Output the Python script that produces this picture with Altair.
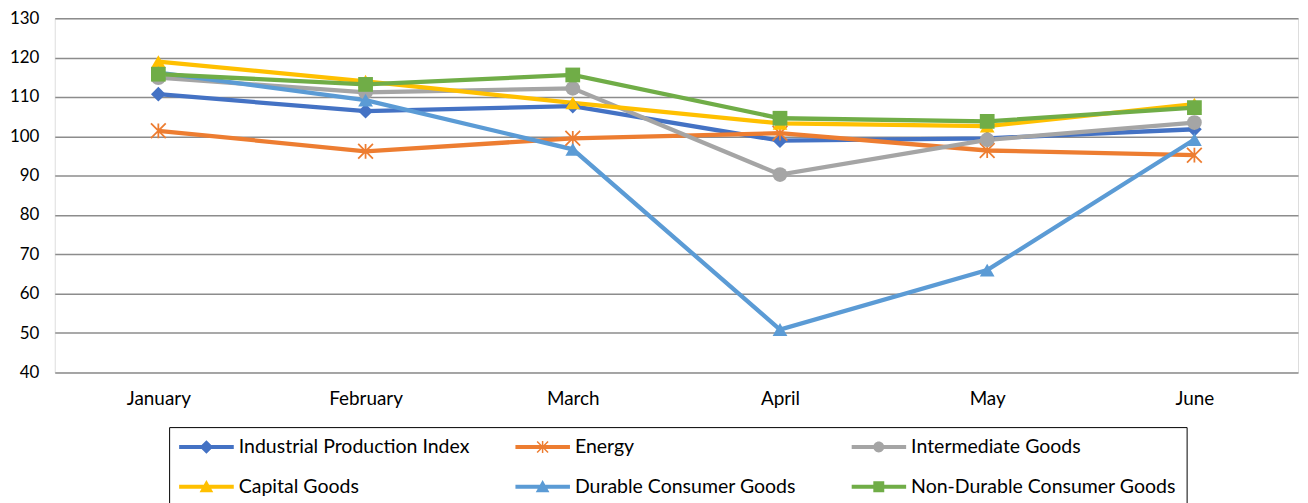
import altair as alt
import pandas as pd

months = ["January", "February", "March", "April", "May", "June"]
series_names = [
    "Industrial Production Index",
    "Energy",
    "Intermediate Goods",
    "Capital Goods",
    "Durable Consumer Goods",
    "Non-Durable Consumer Goods",
]
industrial = [110.7, 106.4, 107.7, 98.9, 99.5, 101.8]
energy = [101.4, 96.2, 99.5, 100.8, 96.4, 95.2]
intermediate = [114.9, 111.2, 112.2, 90.3, 99.1, 103.5]
capital = [119.0, 114.0, 108.5, 103.3, 102.6, 108.2]
durable = [116.2, 109.2, 96.7, 50.9, 66.0, 99.2]
nondurable = [115.8, 113.2, 115.6, 104.6, 103.8, 107.3]
y_ticks = [40, 50, 60, 70, 80, 90, 100, 110, 120, 130]

colors = ["#4472C4", "#ED7D31", "#A5A5A5", "#FFC000", "#5B9BD5", "#70AD47"]

# plot marker shapes (filled paths, unit box -1..1)
star = ("M-0.915,-1.085L1.085,0.915L0.915,1.085L-1.085,-0.915Z"
        "M-1.085,0.915L0.915,-1.085L1.085,-0.915L-0.915,1.085Z"
        "M-0.12,-1H0.12V1H-0.12Z")
marker_shapes = ["diamond", star, "circle", "triangle-up", "triangle-up", "square"]

# legend symbols: line + marker
bar = "M-1,-0.07H1V0.07H-1Z"
lg_diamond = bar + "M0,-0.25L0.25,0L0,0.25L-0.25,0Z"
lg_star = bar + ("M-0.181,-0.219L0.219,0.181L0.181,0.219L-0.219,-0.181Z"
                 "M-0.219,0.181L0.181,-0.219L0.219,-0.181L-0.181,0.219Z"
                 "M-0.027,-0.22H0.027V0.22H-0.027Z")
lg_circle = bar + "M-0.2,0A0.2,0.2 0 1,1 0.2,0A0.2,0.2 0 1,1 -0.2,0Z"
lg_tri = bar + "M0,-0.25L0.25,0.2L-0.25,0.2Z"
lg_square = bar + "M-0.2,-0.2H0.2V0.2H-0.2Z"
legend_shapes = [lg_diamond, lg_star, lg_circle, lg_tri, lg_tri, lg_square]

values = [industrial, energy, intermediate, capital, durable, nondurable]
rows = []
for name, vals in zip(series_names, values):
    for m, v in zip(months, vals):
        rows.append({"Month": m, "Series": name, "Value": v})
df = pd.DataFrame(rows)

FONT = "Lato"

x_enc = alt.X("Month:N", sort=months, scale=alt.Scale(type="point", padding=0.5),
              axis=alt.Axis(title=None, labelAngle=0, ticks=False, domain=False,
                            labelFontSize=19, labelColor="#000000", labelPadding=17,
                            labelFont=FONT, grid=False))
y_enc = alt.Y("Value:Q", scale=alt.Scale(domain=[40, 130], nice=False, zero=False),
              axis=alt.Axis(title=None, values=y_ticks, ticks=False, domain=False,
                            labelFontSize=17, labelColor="#000000", labelPadding=16,
                            labelFont=FONT, grid=True, gridColor="#8c8c8c",
                            gridWidth=1.5))
color_scale = alt.Scale(domain=series_names, range=colors)

legend_props = dict(title=None, orient="none", legendX=115, legendY=411,
                    direction="horizontal",
                    columns=3, gridAlign="all", columnPadding=11,
                    rowPadding=20, padding=10, clipHeight=20,
                    symbolSize=3025,
                    strokeColor="#000000", labelFont=FONT,
                    labelFontSize=19.6, labelColor="#000000",
                    symbolOpacity=1, symbolStrokeWidth=0,
                    labelOffset=5, labelLimit=400)

base = alt.Chart(df)

lines = base.mark_line(strokeWidth=4.3).encode(
    x=x_enc, y=y_enc,
    color=alt.Color("Series:N", scale=color_scale, legend=None),
    detail="Series:N",
)

points = base.mark_point(filled=True, size=220, opacity=1).encode(
    x=x_enc, y=y_enc,
    color=alt.Color("Series:N", scale=color_scale, legend=None),
    shape=alt.Shape("Series:N", scale=alt.Scale(domain=series_names, range=marker_shapes),
                    legend=None),
)

legend_layer = base.mark_point(filled=True, size=3025, opacity=0).encode(
    x=x_enc, y=y_enc,
    color=alt.Color("Series:N", scale=color_scale, legend=alt.Legend(**legend_props)),
    shape=alt.Shape("Series:N", scale=alt.Scale(domain=series_names, range=legend_shapes),
                    legend=alt.Legend(**legend_props)),
)

chart = alt.layer(lines, points, legend_layer).resolve_scale(
    color="independent", shape="independent"
).properties(
    width=1250, height=356,
    autosize=alt.AutoSizeParams(type="none"),
    padding={"left": 47, "top": 9, "right": 2, "bottom": 140},
).configure_view(
    stroke="#000000", strokeWidth=1.5
).configure(
    background="#ffffff"
)

chart.save("out.html", embed_options={"renderer": "svg", "actions": False})
